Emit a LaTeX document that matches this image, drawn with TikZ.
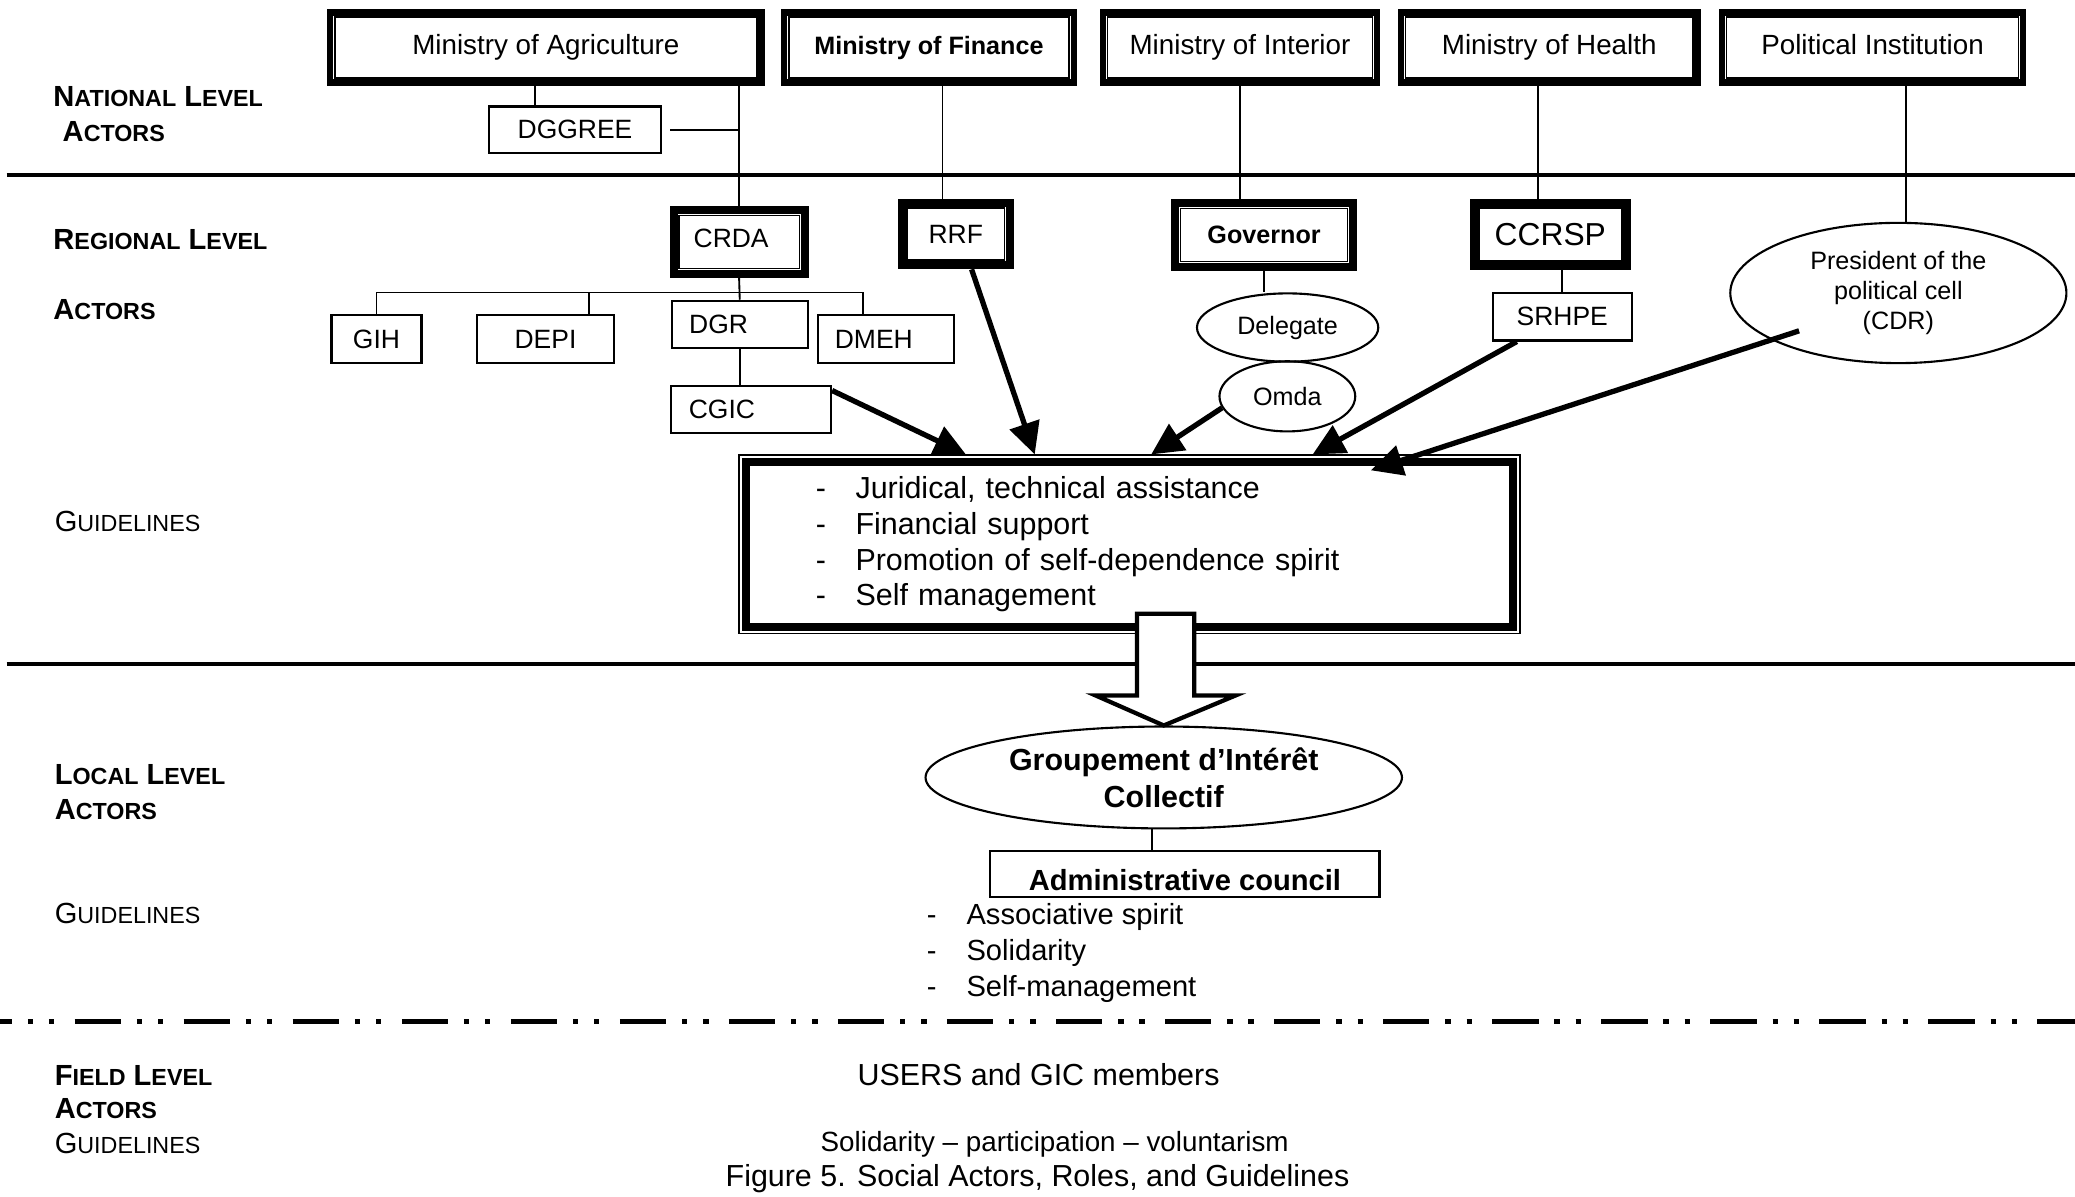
\documentclass[tikz,border=0pt]{standalone}
\usepackage{fontspec}
\setmainfont{Liberation Sans}
\usetikzlibrary{arrows.meta,shapes.geometric,calc}

% small-caps imitation: capital at full size, the rest reduced
\newcommand\smcp[2]{#1{\fontsize{8.8}{10}\selectfont #2}}

\begin{document}
\begin{tikzpicture}[x=0.5pt,y=-0.5pt,
  link/.style={line width=0.7pt},
  lvlbold/.style={anchor=west,inner sep=0pt,font=\fontsize{11}{13}\selectfont\bfseries},
  lvlplain/.style={anchor=west,inner sep=0pt,font=\fontsize{11}{13}\selectfont},
  txt/.style={font=\fontsize{10}{12}\selectfont},
  minbox/.style={draw,line width=2.5pt,inner sep=0pt,minimum height=26.5pt,text height=0.75em,text depth=0.25em,
    font=\fontsize{10.5}{12}\selectfont},
  regbox/.style={draw,line width=3pt,inner sep=0pt,minimum height=24pt,font=\fontsize{10}{12}\selectfont},
  unitbox/.style={draw,line width=0.8pt,inner sep=0pt,minimum height=18pt,font=\fontsize{10}{12}\selectfont},
  actor/.style={draw,ellipse,line width=0.8pt,inner sep=0pt,align=center,font=\fontsize{9.5}{11.5}\selectfont},
  feed/.style={line width=2pt,-{Triangle[length=12pt,width=11.5pt]}},
  divider/.style={line width=1.5pt},
  innerframe/.style={line width=0.6pt},
]
\useasboundingbox (0,0) rectangle (1568,904);

% ---- level dividers ----
\draw[divider] (5,132) -- (1568,132);
\draw[divider] (5,502) -- (1568,502);

% ---- level captions ----
\node (natL) [lvlbold] at (40,73) {\smcp{N}{ATIONAL} \smcp{L}{EVEL}};
\node (natA) [lvlbold] at (47,99.5) {\smcp{A}{CTORS}};
\node (regL) [lvlbold] at (40,181.4) {\smcp{R}{EGIONAL} \smcp{L}{EVEL}};
\node (regA) [lvlbold] at (40,234.3) {\smcp{A}{CTORS}};
\node (regG) [lvlplain] at (41,394.2) {\smcp{G}{UIDELINES}};
\node (locL) [lvlbold] at (41,585.7) {\smcp{L}{OCAL} \smcp{L}{EVEL}};
\node (locA) [lvlbold] at (41,612) {\smcp{A}{CTORS}};
\node (locG) [lvlplain] at (41,690.2) {\smcp{G}{UIDELINES}};
\node (fldL) [lvlbold] at (41,812.4) {\smcp{F}{IELD} \smcp{L}{EVEL}};
\node (fldA) [lvlbold] at (41,837.6) {\smcp{A}{CTORS}};
\node (fldG) [lvlplain] at (41,864) {\smcp{G}{UIDELINES}};

% ---- national actors ----
\node (agr) [minbox,minimum width=163pt] at (412.5,36) {Ministry of Agriculture};
\node (fin) [minbox,minimum width=109.5pt,font=\fontsize{9.5}{12}\selectfont\bfseries] at (702,36) {Ministry of Finance};
\node (int) [minbox,minimum width=103.5pt] at (937,36) {Ministry of Interior};
\node (hea) [minbox,minimum width=112pt] at (1170.7,36) {Ministry of Health};
\node (pol) [minbox,minimum width=113.8pt] at (1415,36) {Political Institution};
\foreach \n in {agr,fin,int,hea,pol}
  \draw[innerframe] ([shift={(3pt,-3pt)}]\n.north west) rectangle ([shift={(-3pt,3pt)}]\n.south east);
\node (dggree) [unitbox,minimum width=65pt,minimum height=17.5pt] at (434.5,98) {DGGREE};

% ---- regional actors ----
\node (crda) [regbox,minimum width=49.5pt,label={[txt,xshift=-3pt,yshift=1.5pt]center:CRDA}] at (558.5,183) {};
\node (rrf) [regbox,minimum width=40.75pt,minimum height=23.75pt] at (722.2,176.8) {RRF};
\node (gov) [regbox,minimum width=67pt,font=\fontsize{9.5}{12}\selectfont\bfseries] at (955.2,177.5) {Governor};
\node (ccrsp) [regbox,minimum width=58pt,font=\fontsize{12}{14}\selectfont] at (1171.5,177.2) {CCRSP};
\foreach \n in {crda,rrf,gov,ccrsp}
  \draw[innerframe] ([shift={(3.5pt,-3.5pt)}]\n.north west) rectangle ([shift={(-3.5pt,3.5pt)}]\n.south east);

\node (gih) [unitbox,minimum width=34pt] at (284.5,256.3) {GIH};
\node (depi) [unitbox,minimum width=51.5pt] at (412.2,256.3) {DEPI};
\node (dgr) [unitbox,minimum width=51.5pt,label={[txt,xshift=-8pt]center:DGR}] at (559,245.3) {};
\node (dmeh) [unitbox,minimum width=51.5pt,label={[txt,xshift=-4.5pt]center:DMEH}] at (669.3,256.3) {};
\node (cgic) [unitbox,minimum width=60.5pt,minimum height=17.5pt,label={[txt,xshift=-11pt]center:CGIC}] at (567.5,309.4) {};
\node (srhpe) [unitbox,minimum width=52.5pt] at (1180.5,239.3) {SRHPE};

\node (deleg) [actor,minimum width=68.5pt,minimum height=25.8pt] at (973,247.5) {Delegate};
\node (omda) [actor,minimum width=51.3pt,minimum height=26.5pt] at (972.8,299.5) {Omda};
\node (pres) [actor,minimum width=127pt,minimum height=53pt] at (1434.5,221.4) {President of the\\political cell\\(CDR)};

% ---- hierarchy links ----
\draw[link] (dggree.north) ++(-30.5,0) coordinate (agrdrop) -- (agrdrop |- agr.south);
\draw[link] (agr.south -| crda.north) -- (crda.north);
\draw[link] ([xshift=3pt]dggree.east) -- (dggree.east -| crda.north);
\draw[link] (rrf.north) ++(-10,0) coordinate (findrop) -- (findrop |- fin.south);
\draw[link] (int.south) -- (int.south |- gov.north);
\draw[link] (ccrsp.north) ++(-9,0) coordinate (headrop) -- (headrop |- hea.south);
\draw[link] (pres.north) ++(6,0) coordinate (poldrop) -- (poldrop |- pol.south);

\draw[link] (crda.south) -- (dgr.north);
\path (crda.south) ++(0,11) coordinate (bar);
\draw[link] (dmeh.north) ++(-17,0) coordinate (dmehdrop) -- (dmehdrop |- bar) -- (gih.north |- bar) -- (gih.north);
\draw[link] (depi.north) ++(33,0) coordinate (depidrop) -- (depidrop |- bar);
\draw[link] (dgr.south) -- (dgr.south |- cgic.north);
\draw[link] (gov.south) -- (gov.south |- deleg.north);
\draw[link] (srhpe.north) -- (srhpe.north |- ccrsp.south);

% ---- regional guidelines ----
\node (guide) [draw,line width=0.6pt,minimum width=295pt,minimum height=67.3pt,text width=237pt,
  inner xsep=29pt,inner ysep=0pt,align=left,font=\fontsize{11.5}{13.5}\selectfont] at (853.5,411.3)
  {\makebox[15pt][l]{-}Juridical, technical assistance\\
   \makebox[15pt][l]{-}Financial support\\
   \makebox[15pt][l]{-}Promotion of self-dependence spirit\\
   \makebox[15pt][l]{-}Self management};
\draw[line width=3pt] ([shift={(3pt,-2.8pt)}]guide.north west) rectangle ([shift={(-3pt,2.8pt)}]guide.south east);

\coordinate (tipA) at ($(guide.north west)+(172,0)$);
\coordinate (tipB) at ($(guide.north west)+(224,0)$);
\coordinate (tipC) at ($(guide.north west)+(312,0)$);
\coordinate (tipD) at ($(guide.north west)+(434,0)$);
\coordinate (tipE) at ($(guide.north west)+(478,12)$);
\draw[feed] ([yshift=-2pt]cgic.north east) -- (tipA);
\draw[feed] ([xshift=6pt]rrf.south) -- (tipB);
\draw[feed] (omda.190) -- (tipC);
\draw[feed] ([xshift=9.5pt]srhpe.south west) -- (tipD);
\draw[feed] ($(pres.center)+(-75,28.6)$) -- (tipE);

% ---- local actors ----
\node (gic) [draw,ellipse,line width=0.8pt,inner sep=0pt,minimum width=180pt,minimum height=38.5pt,
  align=center,font=\fontsize{11.5}{13.9}\selectfont\bfseries] at (879.4,587.5) {Groupement d’Intérêt\\Collectif};
\node (admin) [unitbox,minimum width=147pt,minimum height=17.3pt,
  label={[font=\fontsize{11}{13}\selectfont\bfseries,yshift=-2.5pt]center:Administrative council}] at (895.4,660.3) {};
\draw[link] (gic.south) ++(-9,0) coordinate (gicdrop) -- (gicdrop |- admin.north);

% hollow arrow from the regional guidelines to the GIC
\draw[line width=1.6pt,fill=white,line join=miter] (gic.north)
  -- ++(-51.6,-22.7) -- ++(31.3,0) -- ++(0,-61.7) -- ++(43.4,0) -- ++(0,61.7) -- ++(31.3,0) -- cycle;

\node (loclist) [anchor=west,inner sep=0pt,align=left,font=\fontsize{11}{13.5}\selectfont] at (700,720)
  {\makebox[15pt][l]{-}Associative spirit\\
   \makebox[15pt][l]{-}Solidarity\\
   \makebox[15pt][l]{-}Self-management};

% ---- field level ----
\draw[line width=2pt,dash pattern=on 17.5pt off 6pt on 2pt off 6pt on 2pt off 7.7pt,dash phase=13pt] (0,772) -- (1568,772);
\node (users) [font=\fontsize{11.5}{13}\selectfont] at (784.8,812) {USERS and GIC members};
\node (fieldg) [font=\fontsize{10.5}{12}\selectfont] at (797,865) {Solidarity – participation – voluntarism};
\node (caption) [font=\fontsize{11.5}{13}\selectfont] at (784,891) {Figure 5. Social Actors, Roles, and Guidelines};
\end{tikzpicture}
\end{document}
